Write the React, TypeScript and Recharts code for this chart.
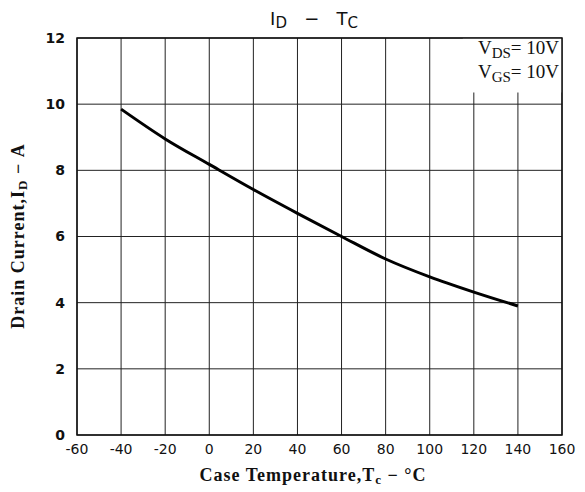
import { LineChart, Line, XAxis, YAxis, CartesianGrid, ReferenceArea } from 'recharts';

const temps = [-40, -20, 0, 20, 40, 60, 80, 100, 120, 140];
const current = [9.85, 8.95, 8.18, 7.42, 6.7, 6.0, 5.32, 4.78, 4.32, 3.9];
const xTicks = [-60, -40, -20, 0, 20, 40, 60, 80, 100, 120, 140, 160];
const yTicks = [0, 2, 4, 6, 8, 10, 12];

const data = temps.map((t, i) => ({ tc: t, id: current[i] }));

const SERIF = '"Liberation Serif", "DejaVu Serif", serif';
const SANS = '"DejaVu Sans", "Liberation Sans", sans-serif';
const NB = '\u00a0';

// condition note drawn on top of the white patch in the upper-right cell
const conditions = (props: any) => {
  const vb = props.viewBox || {};
  const right = (vb.x || 0) + (vb.width || 0) - 3;
  const top = vb.y || 0;
  return (
    <g>
      <text x={right} y={top + 16} textAnchor="end" fontFamily={SERIF} fontSize={19} fill="#111">
        V<tspan fontSize={15} dy={4}>DS</tspan><tspan dy={-4}>{'=' + NB + '10V'}</tspan>
      </text>
      <text x={right} y={top + 40} textAnchor="end" fontFamily={SERIF} fontSize={19} fill="#111">
        V<tspan fontSize={15} dy={4}>GS</tspan><tspan dy={-4}>{'=' + NB + '10V'}</tspan>
      </text>
    </g>
  );
};

export default function App() {
  return (
    <div style={{ position: 'absolute', left: 0, top: 0 }}>
      <LineChart
        width={585}
        height={492}
        data={data}
        margin={{ top: 38, right: 23, bottom: 27, left: 0 }}
      >
        <CartesianGrid stroke="#222" strokeWidth={1} />
        <XAxis
          dataKey="tc"
          type="number"
          domain={[-60, 160]}
          ticks={xTicks}
          interval={0}
          axisLine={false}
          tickLine={false}
          tick={{ fill: '#111', fontSize: 14, fontFamily: SANS }}
          tickMargin={3}
        />
        <YAxis
          type="number"
          domain={[0, 12]}
          ticks={yTicks}
          interval={0}
          width={77}
          axisLine={false}
          tickLine={false}
          tick={{ fill: '#111', fontSize: 14, fontFamily: SANS, fontWeight: 'bold' }}
          tickMargin={6}
        />
        <ReferenceArea
          x1={115}
          x2={160}
          y1={10.35}
          y2={12}
          fill="#fff"
          fillOpacity={1}
          stroke="none"
          label={conditions}
        />
        <ReferenceArea x1={-60} x2={160} y1={0} y2={12} fill="none" stroke="#111" strokeWidth={1.5} />
        <Line
          dataKey="id"
          type="monotone"
          stroke="#000"
          strokeWidth={3}
          dot={false}
          isAnimationActive={false}
        />
        <text x={314} y={25} textAnchor="middle" fontFamily={SANS} fontSize={18} fill="#111">
          I<tspan fontSize={15} dy={3}>D</tspan><tspan dy={-3}>{NB + NB + NB + '−' + NB + NB + NB}</tspan>T<tspan fontSize={15} dy={3}>C</tspan>
        </text>
        <text
          x={313}
          y={481}
          textAnchor="middle"
          fontFamily={SERIF}
          fontSize={18}
          fontWeight="bold"
          letterSpacing={1}
          fill="#111"
        >
          Case Temperature,T<tspan fontSize={13} dy={3}>c</tspan><tspan dy={-3}>{NB + '−' + NB + '°C'}</tspan>
        </text>
        <text
          x={24}
          y={236}
          textAnchor="middle"
          fontFamily={SERIF}
          fontSize={18}
          fontWeight="bold"
          letterSpacing={1}
          fill="#111"
          transform="rotate(-90 24 236)"
        >
          Drain Current,I<tspan fontSize={13} dy={3}>D</tspan><tspan dy={-3}>{NB + '−' + NB + 'A'}</tspan>
        </text>
      </LineChart>
    </div>
  );
}
